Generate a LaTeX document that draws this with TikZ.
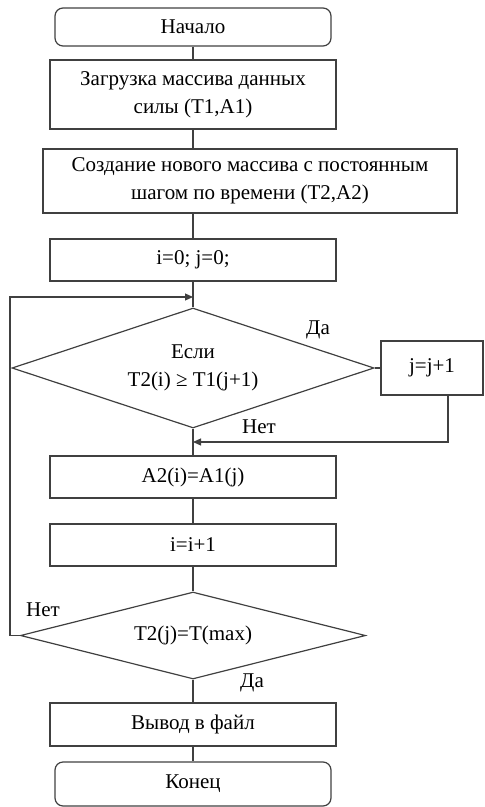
\documentclass[tikz,border=0pt]{standalone}
\usepackage{fontspec}
\setmainfont{Liberation Serif}
\usetikzlibrary{shapes.geometric,arrows.meta}

\begin{document}
\begin{tikzpicture}[x=0.5pt,y=-0.5pt,line width=0.6pt,
  font=\fontsize{10.5}{14}\selectfont,
  term/.style={draw=black!75,rectangle,rounded corners=4pt,minimum width=138pt,align=center},
  blk/.style={draw=black!75,rectangle,minimum width=143pt,align=center},
  test/.style={draw=black!75,diamond,shape aspect=3,inner sep=0pt,align=center},
  arr/.style={-{Triangle[length=4pt,width=3.5pt]}}]

\useasboundingbox (0,0) rectangle (484,807);

\node[term,minimum height=19pt] (start) at (193,27) {Начало};
\node[blk,minimum height=34.5pt] (load) at (193,94.5) {Загрузка массива данных\\силы (T1,A1)};
\node[blk,minimum width=207pt,minimum height=32pt] (create) at (250,181) {Создание нового массива с постоянным\\шагом по времени (T2,A2)};
\node[blk,minimum height=21pt] (init) at (193,260) {i=0; j=0;};
\node[test,minimum width=181pt,minimum height=60pt] (cond1) at (193,368) {Если\\T2(i) ≥ T1(j+1)};
\node[blk,minimum width=51pt,minimum height=27pt] (jbox) at (432,368) {j=j+1};
\node[blk,minimum height=21pt] (assign) at (193,477) {A2(i)=A1(j)};
\node[blk,minimum height=21pt] (incr) at (193,545) {i=i+1};
\node[test,minimum width=172.5pt,minimum height=43.5pt] (cond2) at (193,635.5) {T2(j)=T(max)};
\node[blk,minimum height=21.5pt] (out) at (193,724.5) {Вывод в файл};
\node[term,minimum height=22pt] (end) at (193,784) {Конец};

\node (yes1) at (318,330) {Да};
\node (no1) at (259,427) {Нет};
\node (no2) at (43,610) {Нет};
\node (yes2) at (252,683) {Да};

\coordinate (loop) at (10,297);
\coordinate (jret) at (448,442);

\foreach \a/\b in {start/load,init/cond1,cond1/assign,assign/incr,incr/cond2,cond2/out,out/end}
    \draw[black!75] (\a) -- (\b);
\draw[black!75] (load.south) -- (load.south |- create.north);
\draw[black!75] (create.south -| init.north) -- (init.north);
\draw[black!75] (cond1.east) -- (jbox.west);
\draw[black!75,arr] (jbox.south -| jret) -- (jret) -- (cond1.south |- jret);
\draw[black!75,arr] (cond2.west) -- (cond2.west -| loop) -- (loop) -- (init.south |- loop);
\end{tikzpicture}
\end{document}
